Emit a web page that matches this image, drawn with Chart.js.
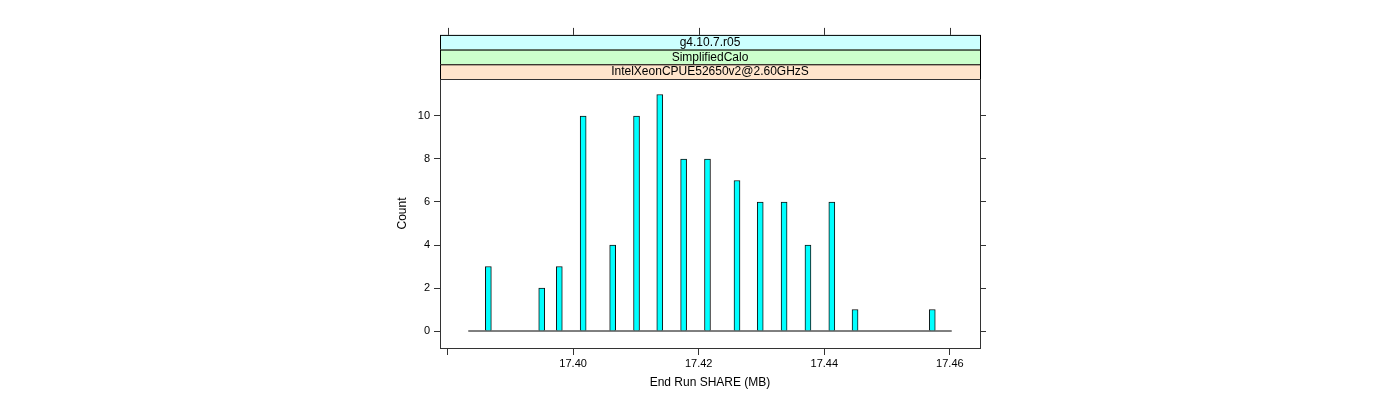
<!DOCTYPE html>
<html>
<head>
<meta charset="utf-8">
<script src="https://cdn.jsdelivr.net/npm/chart.js@4/dist/chart.umd.min.js"></script>
<style>
  html, body { margin: 0; padding: 0; background: #fff; }
  #wrap { width: 1400px; height: 400px; }
</style>
</head>
<body>
<div id="wrap"><canvas id="c" width="1400" height="400"></canvas></div>
<script>
// histogram bins (bin centre in MB, count)
const shareMB = [17.3865, 17.3950, 17.3978, 17.4016, 17.4063, 17.4101, 17.4138, 17.4176,
                 17.4214, 17.4261, 17.4298, 17.4336, 17.4374, 17.4412, 17.4449, 17.4572];
const counts  = [3, 2, 3, 10, 4, 10, 11, 8, 8, 7, 6, 6, 4, 6, 1, 1];
// outer edges of the histogram breaks (zero baseline)
const binRange = [17.3833, 17.4603];

const xTicks = [17.38, 17.40, 17.42, 17.44, 17.46];
const xTickLabels = ['', '17.40', '17.42', '17.44', '17.46'];
const yTicks = [0, 2, 4, 6, 8, 10];

const stripLabels = ['g4.10.7.r05', 'SimplifiedCalo', 'IntelXeonCPUE52650v2@2.60GHzS'];
const stripColors = ['#ccffff', '#ccffcc', '#ffe5cc'];

const FONT = 'Liberation Sans, Arial, Helvetica, sans-serif';
const AXIS = '#333';

// lattice-style panel: box, strips above, top ticks
const panelDecor = {
  id: 'panelDecor',
  afterDraw(chart) {
    const { ctx, chartArea: a, scales } = chart;
    const stripH = 14.7;
    const top0 = a.top - stripH * stripLabels.length;
    ctx.save();
    stripLabels.forEach((txt, i) => {
      const y = top0 + i * stripH;
      ctx.fillStyle = stripColors[i];
      ctx.fillRect(a.left, y, a.right - a.left, stripH);
      ctx.strokeStyle = '#000';
      ctx.lineWidth = 1;
      ctx.strokeRect(a.left + 0.5, y + 0.5, a.right - a.left, stripH);
      ctx.fillStyle = '#000';
      ctx.font = '12px ' + FONT;
      ctx.textAlign = 'center';
      ctx.textBaseline = 'middle';
      ctx.fillText(txt, (a.left + a.right) / 2, y + stripH / 2 + 0.5);
    });
    // panel box
    ctx.strokeStyle = AXIS;
    ctx.strokeRect(a.left + 0.5, a.top + 0.5, a.right - a.left, a.bottom - a.top);
    // top axis ticks, above the strips
    ctx.beginPath();
    xTicks.forEach(v => {
      const x = Math.round(scales.x.getPixelForValue(v)) + 0.5;
      ctx.moveTo(x, top0);
      ctx.lineTo(x, top0 - 7);
    });
    ctx.stroke();
    ctx.restore();
  }
};

new Chart(document.getElementById('c'), {
  type: 'bar',
  data: {
    datasets: [
      {
        type: 'line',
        data: binRange.map(x => ({ x, y: 0 })),
        borderColor: '#000',
        borderWidth: 1,
        pointRadius: 0,
        order: 0
      },
      {
        data: shareMB.map((x, i) => ({ x, y: counts[i] })),
        backgroundColor: '#00ffff',
        borderColor: '#111',
        borderWidth: 1,
        borderSkipped: 'start',
        barThickness: 6,
        order: 1
      }
    ]
  },
  options: {
    responsive: false,
    animation: false,
    layout: { padding: { left: 395, right: 400, top: 79, bottom: 0 } },
    plugins: { legend: { display: false }, tooltip: { enabled: false } },
    scales: {
      x: {
        type: 'linear',
        position: 'bottom',
        min: 17.3788,
        max: 17.4648,
        offset: false,
        afterBuildTicks: s => { s.ticks = xTicks.map(v => ({ value: v })); },
        afterFit: s => { s.height = 52; },
        ticks: {
          font: { family: FONT, size: 11 },
          color: '#000',
          padding: 2,
          maxRotation: 0,
          autoSkip: false,
          callback: (v, i) => xTickLabels[i]
        },
        grid: { offset: false, drawOnChartArea: false, drawTicks: true, tickLength: 7, color: AXIS },
        border: { display: false },
        title: {
          display: true,
          text: 'End Run SHARE (MB)',
          font: { family: FONT, size: 12 },
          color: '#000',
          padding: { top: 0, bottom: 10 }
        }
      },
      y: {
        position: 'left',
        min: -0.79,
        max: 11.72,
        afterBuildTicks: s => { s.ticks = yTicks.map(v => ({ value: v })); },
        afterFit: s => { s.width = 45; },
        ticks: {
          font: { family: FONT, size: 11 },
          color: '#000',
          padding: 4
        },
        grid: { drawOnChartArea: false, drawTicks: true, tickLength: 6, color: AXIS },
        border: { display: false },
        title: {
          display: true,
          text: 'Count',
          font: { family: FONT, size: 12 },
          color: '#000',
          padding: { top: 0, bottom: 0 }
        }
      },
      y2: {
        position: 'right',
        min: -0.79,
        max: 11.72,
        afterBuildTicks: s => { s.ticks = yTicks.map(v => ({ value: v })); },
        afterFit: s => { s.width = 20; },
        ticks: { display: false },
        grid: { drawOnChartArea: false, drawTicks: true, tickLength: 6, color: AXIS },
        border: { display: false }
      }
    }
  },
  plugins: [panelDecor]
});
</script>
</body>
</html>
